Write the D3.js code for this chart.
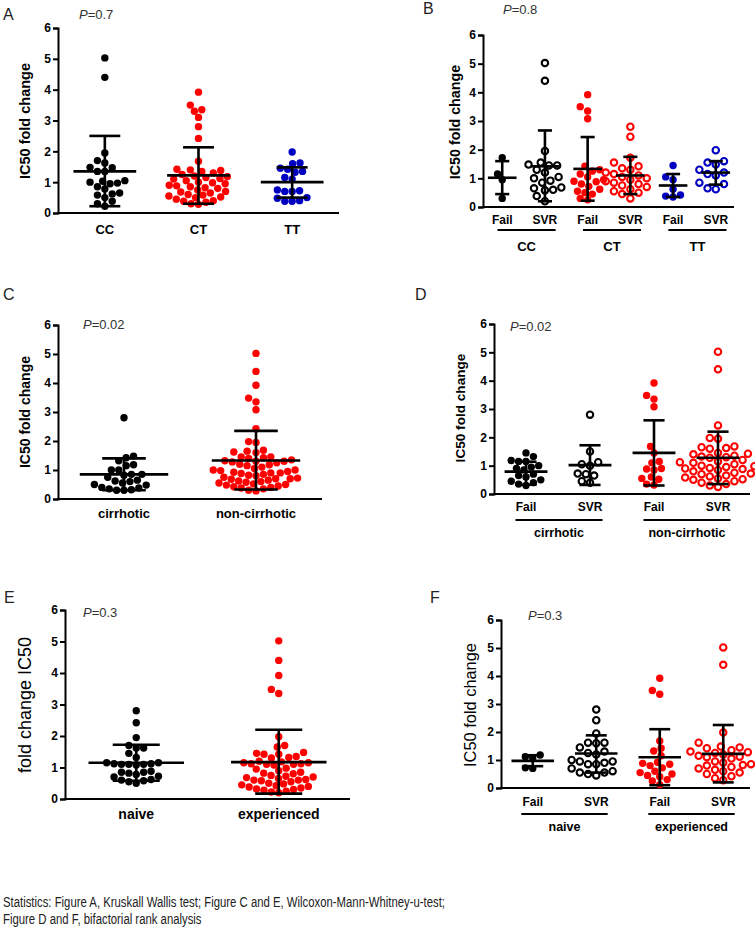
<!DOCTYPE html>
<html>
<head>
<meta charset="utf-8">
<script src="https://cdn.jsdelivr.net/npm/d3@7"></script>
<style>
  html, body { margin: 0; padding: 0; background: #fff; }
  svg { display: block; }
  text { font-family: "Liberation Sans", Arial, sans-serif; }
</style>
</head>
<body>
<svg id="chart" width="755" height="928"></svg>
<script>
// ---------------- DATA ----------------
const yTicks = [0, 1, 2, 3, 4, 5, 6];

// Panel A
const catsA = ["CC", "CT", "TT"];
const pA = "0.7";
const A_CC = [5.03, 4.4, 1.95, 1.7, 1.62, 1.48, 1.47, 1.35, 1.35, 1.05, 1.03, 1.0, 0.97, 0.95, 0.85, 0.78, 0.65, 0.62, 0.58, 0.5, 0.38, 0.3, 0.22];
const A_CT = [3.92, 3.5, 3.35, 3.3, 3.1, 2.8, 2.42, 1.68, 1.42, 1.4, 1.38, 1.35, 1.3, 1.25, 1.2, 1.18, 1.15, 1.12, 1.1, 1.05, 1.0, 0.98, 0.95, 0.9, 0.88, 0.85, 0.82, 0.8, 0.75, 0.7, 0.68, 0.65, 0.6, 0.58, 0.55, 0.52, 0.5, 0.45, 0.4, 0.38, 0.35, 0.3, 0.28];
const A_TT = [1.98, 1.62, 1.6, 1.45, 1.42, 1.35, 1.32, 1.15, 1.1, 0.75, 0.72, 0.7, 0.7, 0.5, 0.48, 0.4, 0.38, 0.38];
const meanA = [1.35, 1.22, 1.0];
const sdHiA = [2.5, 2.13, 1.48];
const sdLoA = [0.22, 0.3, 0.5];

// Panel B
const subB = ["Fail", "SVR", "Fail", "SVR", "Fail", "SVR"];
const groupsB = ["CC", "CT", "TT"];
const pB = "0.8";
const B_CC_Fail = [1.72, 1.15, 0.95, 0.3];
const B_CC_SVR = [5.02, 4.4, 1.95, 1.55, 1.48, 1.45, 1.45, 1.3, 1.2, 1.05, 1.0, 0.92, 0.85, 0.68, 0.65, 0.6, 0.58, 0.38, 0.2];
const B_CT_Fail = [3.92, 3.5, 3.35, 3.08, 1.42, 1.3, 1.25, 1.15, 1.05, 0.95, 0.9, 0.88, 0.8, 0.72, 0.62, 0.55, 0.5, 0.45, 0.3, 0.25];
const B_CT_SVR = [2.8, 2.45, 1.72, 1.55, 1.42, 1.35, 1.3, 1.2, 1.15, 1.1, 1.05, 1.0, 0.95, 0.9, 0.85, 0.8, 0.75, 0.7, 0.62, 0.55, 0.5, 0.45, 0.3];
const B_TT_Fail = [1.45, 1.05, 0.95, 0.62, 0.42, 0.38, 0.35];
const B_TT_SVR = [1.98, 1.6, 1.55, 1.48, 1.3, 1.2, 1.15, 1.1, 0.85, 0.8, 0.65, 0.62];
const meanB = [1.02, 1.42, 1.33, 1.1, 0.75, 1.2];
const sdHiB = [1.6, 2.67, 2.44, 1.75, 1.15, 1.6];
const sdLoB = [0.45, 0.2, 0.22, 0.45, 0.35, 0.78];

// Panel C
const catsC = ["cirrhotic", "non-cirrhotic"];
const pC = "0.02";
const C_cirr = [2.8, 1.48, 1.42, 1.32, 1.18, 1.15, 1.0, 1.0, 0.85, 0.85, 0.82, 0.75, 0.65, 0.62, 0.6, 0.55, 0.5, 0.48, 0.4, 0.38, 0.35, 0.32, 0.3, 0.3];
const C_noncirr = [5.02, 4.4, 3.92, 3.48, 3.35, 3.08, 2.42, 1.98, 1.95, 1.68, 1.65, 1.62, 1.6, 1.45, 1.45, 1.42, 1.4, 1.35, 1.32, 1.3, 1.3, 1.28, 1.25, 1.2, 1.18, 1.15, 1.1, 1.05, 1.0, 1.0, 0.98, 0.95, 0.92, 0.9, 0.9, 0.88, 0.85, 0.82, 0.8, 0.75, 0.72, 0.7, 0.7, 0.68, 0.65, 0.62, 0.6, 0.58, 0.55, 0.52, 0.5, 0.48, 0.45, 0.42, 0.4, 0.38, 0.35, 0.3, 0.28];
const meanC = [0.85, 1.33];
const sdHiC = [1.4, 2.35];
const sdLoC = [0.3, 0.33];

// Panel D
const subD = ["Fail", "SVR", "Fail", "SVR"];
const groupsD = ["cirrhotic", "non-cirrhotic"];
const pD = "0.02";
const D_cirr_Fail = [1.45, 1.32, 1.18, 1.15, 1.15, 1.0, 0.95, 0.9, 0.85, 0.7, 0.65, 0.6, 0.5, 0.45, 0.4, 0.35, 0.3];
const D_cirr_SVR = [2.8, 1.5, 1.12, 1.05, 1.0, 0.72, 0.7, 0.65, 0.45, 0.4];
const D_non_Fail = [3.92, 3.48, 3.35, 3.08, 1.68, 1.45, 1.15, 1.1, 0.9, 0.88, 0.85, 0.6, 0.55, 0.52, 0.35, 0.32];
const D_non_SVR = [5.02, 4.4, 2.42, 1.98, 1.95, 1.68, 1.65, 1.62, 1.6, 1.45, 1.42, 1.4, 1.35, 1.32, 1.3, 1.28, 1.2, 1.15, 1.12, 1.1, 1.05, 1.0, 0.98, 0.95, 0.92, 0.9, 0.88, 0.85, 0.8, 0.75, 0.72, 0.7, 0.65, 0.62, 0.58, 0.55, 0.52, 0.5, 0.45, 0.4, 0.35, 0.3, 0.25];
const meanD = [0.79, 1.02, 1.45, 1.28];
const sdHiD = [1.14, 1.72, 2.6, 2.2];
const sdLoD = [0.33, 0.32, 0.3, 0.35];

// Panel E
const catsE = ["naive", "experienced"];
const pE = "0.3";
const E_naive = [2.8, 2.42, 1.95, 1.7, 1.62, 1.62, 1.45, 1.32, 1.15, 1.15, 1.12, 1.12, 1.1, 1.1, 1.1, 1.08, 0.88, 0.85, 0.85, 0.82, 0.78, 0.72, 0.7, 0.62, 0.6, 0.58, 0.55, 0.5];
const E_exp = [5.02, 4.4, 3.92, 3.48, 3.35, 1.98, 1.7, 1.65, 1.48, 1.45, 1.42, 1.42, 1.35, 1.32, 1.3, 1.2, 1.18, 1.15, 1.15, 1.12, 1.12, 1.1, 1.1, 1.08, 0.98, 0.95, 0.9, 0.85, 0.82, 0.8, 0.75, 0.72, 0.7, 0.68, 0.65, 0.62, 0.6, 0.6, 0.58, 0.55, 0.5, 0.48, 0.45, 0.42, 0.4, 0.38, 0.35, 0.32, 0.3, 0.28, 0.25, 0.22, 0.2];
const meanE = [1.15, 1.17];
const sdHiE = [1.72, 2.2];
const sdLoE = [0.58, 0.17];

// Panel F
const subF = ["Fail", "SVR", "Fail", "SVR"];
const groupsF = ["naive", "experienced"];
const pF = "0.3";
const F_naive_Fail = [1.18, 1.12, 1.08, 0.72, 0.7];
const F_naive_SVR = [2.8, 2.42, 1.95, 1.62, 1.62, 1.6, 1.45, 1.3, 1.25, 1.2, 1.0, 0.95, 0.95, 0.9, 0.85, 0.85, 0.7, 0.6, 0.55, 0.55, 0.5, 0.45];
const F_exp_Fail = [3.92, 3.48, 3.35, 1.68, 1.42, 1.32, 1.15, 0.92, 0.88, 0.85, 0.8, 0.72, 0.6, 0.55, 0.5, 0.45, 0.4, 0.3, 0.25, 0.12];
const F_exp_SVR = [5.02, 4.4, 1.98, 1.62, 1.48, 1.45, 1.42, 1.35, 1.3, 1.28, 1.25, 1.2, 1.15, 1.12, 1.1, 1.05, 0.95, 0.9, 0.85, 0.82, 0.8, 0.75, 0.7, 0.65, 0.6, 0.55, 0.5, 0.42, 0.35, 0.28];
const meanF = [0.97, 1.23, 1.1, 1.22];
const sdHiF = [1.17, 1.88, 2.1, 2.25];
const sdLoF = [0.78, 0.55, 0.1, 0.2];

const captionLines = [
  "Statistics: Figure A, Kruskall Wallis test; Figure C and E, Wilcoxon-Mann-Whitney-u-test;",
  "Figure D and F, bifactorial rank analysis"
];

// ---------------- STYLE ----------------
const BLACK = "#000000", RED = "#ff0000", BLUE = "#0000c0";

// ---------------- DRAW ----------------
const svg = d3.select("#chart");

// Prism-like scatter: points that are vertically close are laid side by side in rows
function swarm(values, y, cx, d) {
  const pts = values.map(v => ({ v, y: y(v) })).sort((a, b) => a.v - b.v);
  const placed = [];
  const rowH = d * 0.7;
  for (const p of pts) {
    const iv = [];
    for (const q of placed) {
      const dy = Math.abs(q.y - p.y);
      if (dy < rowH) iv.push([q.dx - d, q.dx + d]);
      else if (dy < d) { const dx = Math.sqrt(d * d - dy * dy); iv.push([q.dx - dx, q.dx + dx]); }
    }
    const cands = [0];
    iv.forEach(([a, b]) => cands.push(a, b));
    cands.sort((a, b) => Math.abs(a) - Math.abs(b) || a - b);
    p.dx = cands.find(c => iv.every(([a, b]) => c <= a + 1e-6 || c >= b - 1e-6));
    placed.push(p);
  }
  return pts.map(p => ({ v: p.v, y: p.y, x: cx + p.dx }));
}

function drawPanel(cfg) {
  const g = svg.append("g");
  const y = d3.scaleLinear().domain([0, 6]).range([cfg.y0, cfg.y6]);
  const x = d3.scalePoint().domain(d3.range(cfg.groups.length)).range(cfg.xRange).padding(cfg.pad);
  const step = x.step();

  // axes
  const yAxis = d3.axisLeft(y).tickValues(yTicks).tickFormat(d3.format("d")).tickSizeOuter(0).tickSize(5).tickPadding(2);
  const ya = g.append("g").attr("transform", `translate(${cfg.ax0},0)`).call(yAxis);
  ya.select(".domain").attr("stroke", "#000").attr("stroke-width", 2);
  ya.selectAll(".tick line").attr("stroke", "#000").attr("stroke-width", 2);
  ya.selectAll(".tick text").attr("fill", "#000").style("font-size", "12px").style("font-weight", "bold")
    .style("font-family", "'Liberation Sans', Arial, sans-serif");
  g.append("line").attr("x1", cfg.ax0 - 1).attr("x2", cfg.ax1).attr("y1", y(0)).attr("y2", y(0))
    .attr("stroke", "#000").attr("stroke-width", 2);

  // points
  cfg.groups.forEach((grp, i) => {
    const cx = x(i);
    const pts = swarm(grp.values, y, cx, grp.open ? 8.2 : 7.4);
    g.append("g").selectAll("circle").data(pts).join("circle")
      .attr("cx", d => d.x).attr("cy", d => d.y)
      .attr("r", grp.open ? 3.2 : 3.7)
      .attr("fill", grp.open ? "none" : grp.color)
      .attr("stroke", grp.open ? grp.color : "none")
      .attr("stroke-width", grp.open ? 2.1 : 0);
    // mean +- SD
    const mw = step * 0.67 / 2, cw = step * 0.33 / 2;
    const eb = g.append("g").attr("stroke", "#000").attr("stroke-width", 2.6);
    eb.append("line").attr("x1", cx).attr("x2", cx).attr("y1", y(grp.lo)).attr("y2", y(grp.hi));
    eb.append("line").attr("x1", cx - mw).attr("x2", cx + mw).attr("y1", y(grp.mean)).attr("y2", y(grp.mean));
    eb.append("line").attr("x1", cx - cw).attr("x2", cx + cw).attr("y1", y(grp.hi)).attr("y2", y(grp.hi));
    eb.append("line").attr("x1", cx - cw).attr("x2", cx + cw).attr("y1", y(grp.lo)).attr("y2", y(grp.lo));
    // category label
    g.append("text").attr("x", cx).attr("y", cfg.catY).attr("text-anchor", "middle")
      .style("font-size", cfg.catSize + "px").style("font-weight", "bold").text(grp.label);
  });

  // group labels (pairs)
  if (cfg.pairs) {
    cfg.pairs.forEach((lab, k) => {
      const cx = (x(2 * k) + x(2 * k + 1)) / 2 + (cfg.pairShift || 0);
      const hw = step * 0.68;
      g.append("line").attr("x1", cx - hw).attr("x2", cx + hw).attr("y1", cfg.pairLineY).attr("y2", cfg.pairLineY)
        .attr("stroke", "#000").attr("stroke-width", 2);
      g.append("text").attr("x", cx).attr("y", cfg.pairY).attr("text-anchor", "middle")
        .style("font-size", cfg.pairSize + "px").style("font-weight", "bold").text(lab);
    });
  }

  // y title
  g.append("text").attr("transform", `translate(${cfg.titleX},${cfg.titleY}) rotate(-90)`)
    .attr("text-anchor", "middle").attr("dy", "0.35em")
    .style("font-size", cfg.titleSize + "px").style("font-weight", cfg.titleBold ? "bold" : "normal")
    .text(cfg.title);

  // panel letter
  g.append("text").attr("x", cfg.letterX).attr("y", cfg.letterY).style("font-size", "16px").attr("fill", "#222").text(cfg.letter);

  // P value
  const pt = g.append("text").attr("x", cfg.pX).attr("y", cfg.pY).style("font-size", "13px").attr("fill", "#333");
  pt.append("tspan").style("font-style", "italic").text("P");
  pt.append("tspan").text("=" + cfg.p);
}

const mk = (labels, vals, means, his, los, colors, opens) =>
  labels.map((l, i) => ({ label: l, values: vals[i], mean: means[i], hi: his[i], lo: los[i], color: colors[i], open: opens[i] }));

drawPanel({
  letter: "A", letterX: 3, letterY: 20, p: pA, pX: 79, pY: 19,
  y0: 213, y6: 28, ax0: 58, ax1: 339, xRange: [58, 339], pad: 0.5,
  groups: mk(catsA, [A_CC, A_CT, A_TT], meanA, sdHiA, sdLoA, [BLACK, RED, BLUE], [false, false, false]),
  catY: 234, catSize: 13,
  title: "IC50 fold change", titleX: 25, titleY: 121, titleSize: 14.5, titleBold: true
});

drawPanel({
  letter: "B", letterX: 423, letterY: 14, p: pB, pX: 503, pY: 14,
  y0: 207, y6: 35, ax0: 483, ax1: 734, xRange: [483, 735], pad: 0.45,
  groups: mk(subB, [B_CC_Fail, B_CC_SVR, B_CT_Fail, B_CT_SVR, B_TT_Fail, B_TT_SVR], meanB, sdHiB, sdLoB,
    [BLACK, BLACK, RED, RED, BLUE, BLUE], [false, true, false, true, false, true]),
  catY: 224, catSize: 12,
  pairs: groupsB, pairLineY: 230, pairY: 251, pairSize: 13, pairShift: 3,
  title: "IC50 fold change", titleX: 455, titleY: 122, titleSize: 14.3, titleBold: true
});

drawPanel({
  letter: "C", letterX: 3, letterY: 300, p: pC, pX: 83, pY: 329,
  y0: 499, y6: 325, ax0: 58, ax1: 322, xRange: [58, 322], pad: 0.5,
  groups: mk(catsC, [C_cirr, C_noncirr], meanC, sdHiC, sdLoC, [BLACK, RED], [false, false]),
  catY: 518, catSize: 13,
  title: "IC50 fold change", titleX: 25, titleY: 412, titleSize: 14, titleBold: true
});

drawPanel({
  letter: "D", letterX: 415, letterY: 300, p: pD, pX: 510, pY: 331,
  y0: 494, y6: 324, ax0: 494, ax1: 750, xRange: [494, 750], pad: 0.5,
  groups: mk(subD, [D_cirr_Fail, D_cirr_SVR, D_non_Fail, D_non_SVR], meanD, sdHiD, sdLoD,
    [BLACK, BLACK, RED, RED], [false, true, false, true]),
  catY: 511, catSize: 12,
  pairs: groupsD, pairLineY: 520, pairY: 537, pairSize: 12.5, pairShift: 1,
  title: "IC50 fold change", titleX: 460, titleY: 408, titleSize: 13.6, titleBold: true
});

drawPanel({
  letter: "E", letterX: 4, letterY: 603, p: pE, pX: 83, pY: 617,
  y0: 799, y6: 610, ax0: 65, ax1: 350, xRange: [65, 350], pad: 0.5,
  groups: mk(catsE, [E_naive, E_exp], meanE, sdHiE, sdLoE, [BLACK, RED], [false, false]),
  catY: 819, catSize: 14,
  title: "fold change IC50", titleX: 25, titleY: 705, titleSize: 18, titleBold: false
});

drawPanel({
  letter: "F", letterX: 430, letterY: 603, p: pF, pX: 528, pY: 620,
  y0: 788, y6: 620, ax0: 501, ax1: 750, xRange: [501, 755], pad: 0.5,
  groups: mk(subF, [F_naive_Fail, F_naive_SVR, F_exp_Fail, F_exp_SVR], meanF, sdHiF, sdLoF,
    [BLACK, BLACK, RED, RED], [false, true, false, true]),
  catY: 806, catSize: 12,
  pairs: groupsF, pairLineY: 814, pairY: 831, pairSize: 12.5, pairShift: 0,
  title: "IC50 fold change", titleX: 470, titleY: 705, titleSize: 16.4, titleBold: false
});

// caption
const cap = svg.append("g").attr("fill", "#222");
const l1 = cap.append("text").attr("x", 3).attr("y", 907).style("font-size", "15.5px").text(captionLines[0]);
const nat1 = l1.node().getComputedTextLength();
const ratio = 442 / nat1;
l1.attr("textLength", 442).attr("lengthAdjust", "spacingAndGlyphs");
const l2 = cap.append("text").attr("x", 3).attr("y", 924).style("font-size", "15.5px").text(captionLines[1]);
const nat2 = l2.node().getComputedTextLength();
l2.attr("textLength", nat2 * ratio).attr("lengthAdjust", "spacingAndGlyphs");
</script>
</body>
</html>
